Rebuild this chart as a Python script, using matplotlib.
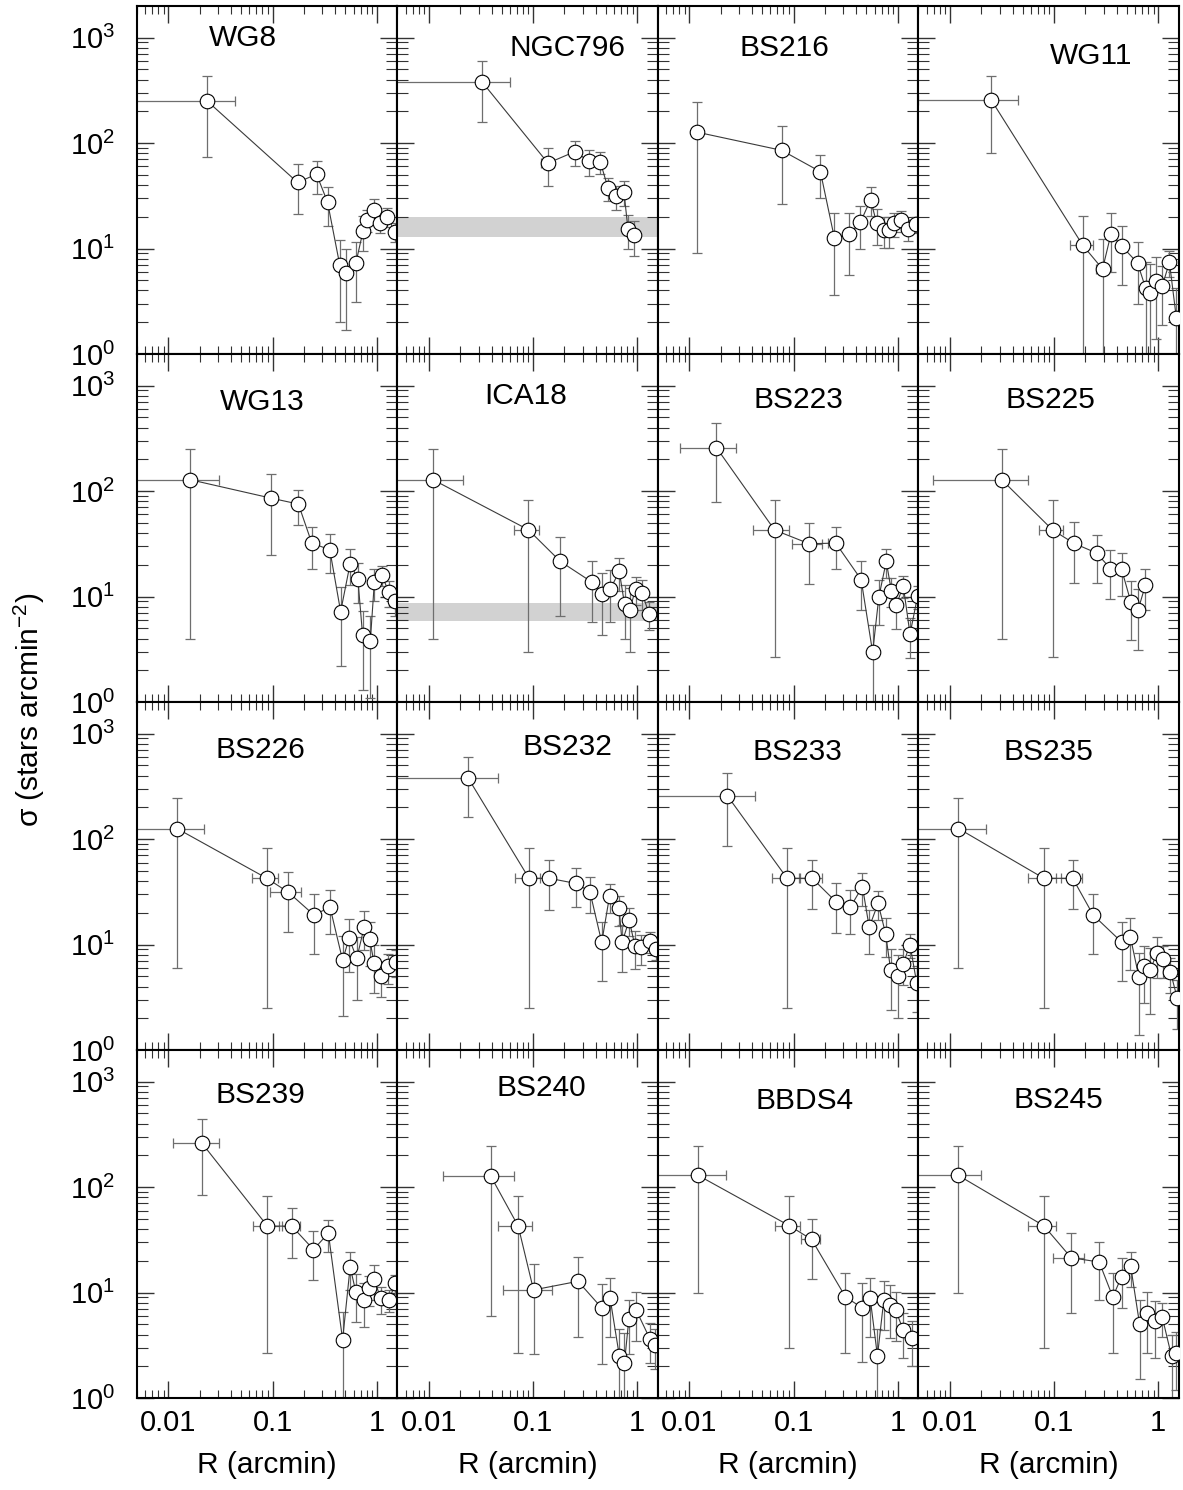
import numpy as np
import matplotlib
matplotlib.use("Agg")
import matplotlib.pyplot as plt
from matplotlib.ticker import LogLocator, FuncFormatter, NullFormatter

plt.rcParams.update({
    'font.family': ['Liberation Sans', 'DejaVu Sans'],
    'font.size': 21,
    'mathtext.fontset': 'custom',
    'mathtext.rm': 'Liberation Sans',
    'mathtext.it': 'Liberation Sans:italic',
    'mathtext.bf': 'Liberation Sans:bold',
    'axes.linewidth': 1.5,
})

# ── radial density profiles: R (arcmin), dR, sigma (stars arcmin^-2), dsigma ──
wg8_r = [0.0233, 0.174, 0.264, 0.337, 0.441, 0.51, 0.63, 0.74, 0.81, 0.94, 1.07, 1.26, 1.49]
wg8_rerr = [0.020, 0, 0, 0, 0, 0, 0, 0, 0, 0, 0, 0, 0]
wg8_sig = [253, 42.3, 50.7, 27.5, 7.0, 5.8, 7.3, 14.8, 18.7, 23.3, 17.4, 20.1, 14.5]
wg8_err = [180, 21, 17.6, 11, 5.0, 4.1, 4.2, 5.4, 4.5, 6, 3.5, 4, 3]

ngc796_r = [0.0324, 0.139, 0.253, 0.342, 0.441, 0.524, 0.625, 0.745, 0.814, 0.936]
ngc796_rerr = [0.028, 0.02, 0, 0, 0, 0, 0, 0, 0, 0]
ngc796_sig = [380, 64.5, 83.1, 67.3, 66.6, 37.4, 31.2, 34.3, 15.3, 13.4]
ngc796_err = [220, 25, 22.6, 19, 16, 9, 8, 9, 5.4, 4.9]

bs216_r = [0.0118, 0.0769, 0.181, 0.246, 0.344, 0.438, 0.548, 0.628, 0.73, 0.82, 0.91, 1.08, 1.25, 1.49]
bs216_rerr = [0] * 14
bs216_sig = [127, 85.3, 53.5, 12.7, 13.7, 17.7, 29.1, 17.3, 15.1, 15.1, 17.3, 18.5, 15.3, 16.9]
bs216_err = [118, 59, 23.4, 9.1, 8.1, 7.8, 8.9, 6.4, 5, 5, 4.5, 4, 3.5, 3]

wg11_r = [0.0249, 0.189, 0.292, 0.352, 0.448, 0.632, 0.757, 0.828, 0.948, 1.09, 1.28, 1.49]
wg11_rerr = [0.020, 0.048, 0.04, 0, 0, 0, 0, 0, 0, 0, 0, 0]
wg11_sig = [257, 10.7, 6.4, 13.8, 10.5, 7.3, 4.2, 3.8, 4.9, 4.4, 7.4, 2.2]
wg11_err = [176, 9.8, 5.9, 7.8, 6, 4.3, 3.2, 3.3, 3.5, 2.5, 2, 2]

wg13_r = [0.0163, 0.0964, 0.177, 0.238, 0.354, 0.45, 0.555, 0.658, 0.731, 0.867, 0.948, 1.12, 1.3, 1.51]
wg13_rerr = [0.0146, 0, 0, 0, 0, 0, 0, 0, 0, 0, 0, 0, 0, 0]
wg13_sig = [128, 85.8, 75.3, 32.1, 27.8, 7.2, 20.5, 14.7, 4.3, 3.8, 13.7, 16.1, 11.0, 9.1]
wg13_err = [124, 61, 28, 14, 11, 5, 7.5, 6, 3, 2.7, 4.6, 3.5, 3, 2.5]

ica18_r = [0.011, 0.0901, 0.183, 0.367, 0.462, 0.549, 0.672, 0.754, 0.849, 0.964, 1.11, 1.3]
ica18_rerr = [0.0103, 0.025, 0, 0, 0, 0, 0, 0, 0, 0, 0, 0]
ica18_sig = [128, 43, 21.5, 13.7, 10.6, 11.7, 17.3, 8.5, 7.5, 11.9, 10.9, 6.8]
ica18_err = [124, 40, 15, 8, 6.3, 6, 6, 4.5, 4.5, 3.5, 3.5, 2]

bs223_r = [0.0182, 0.0658, 0.141, 0.254, 0.445, 0.574, 0.658, 0.775, 0.867, 0.97, 1.13, 1.31, 1.55]
bs223_rerr = [0.010, 0.025, 0.045, 0.04, 0, 0, 0, 0, 0, 0, 0, 0, 0]
bs223_sig = [258, 42.7, 31.7, 32.1, 14.5, 2.96, 9.9, 21.5, 11.4, 8.4, 12.6, 4.4, 10.1]
bs223_err = [180, 40, 18.5, 14, 7, 2.4, 4.5, 6.5, 3.5, 3.5, 3, 1.8, 2.5]

bs225_r = [0.0315, 0.097, 0.156, 0.257, 0.347, 0.445, 0.545, 0.638, 0.752]
bs225_rerr = [0.0246, 0.025, 0, 0, 0, 0, 0, 0, 0]
bs225_sig = [128, 42.7, 31.9, 25.8, 18.4, 18.1, 8.9, 7.4, 12.8]
bs225_err = [124, 40, 18.5, 12.5, 9, 8, 5, 4.3, 5.3]

bs226_r = [0.0121, 0.0881, 0.142, 0.249, 0.356, 0.47, 0.542, 0.643, 0.758, 0.855, 0.942, 1.09, 1.29, 1.53]
bs226_rerr = [0.01, 0.025, 0.047, 0, 0, 0, 0, 0, 0, 0, 0, 0, 0, 0]
bs226_sig = [126, 42.5, 31.3, 19.1, 22.6, 7.1, 11.5, 7.4, 14.8, 11.2, 6.7, 5.0, 6.2, 6.9]
bs226_err = [120, 40, 18, 11, 10, 5, 6, 4.4, 6, 5, 3.2, 1.8, 2, 2]

bs232_r = [0.0238, 0.0914, 0.143, 0.257, 0.351, 0.456, 0.542, 0.668, 0.715, 0.836, 0.949, 1.08, 1.32, 1.51]
bs232_rerr = [0.022, 0.025, 0.015, 0, 0, 0, 0, 0, 0, 0, 0, 0, 0, 0]
bs232_sig = [380, 42.5, 42.5, 38, 31.8, 10.5, 28.9, 22.1, 10.5, 17.1, 9.7, 9.4, 10.8, 9.1]
bs232_err = [217, 40, 21, 15.5, 12, 6, 9, 7, 5, 5, 3.8, 3, 2.5, 2]

bs233_r = [0.0232, 0.0867, 0.151, 0.255, 0.35, 0.458, 0.532, 0.647, 0.764, 0.855, 1.0, 1.13, 1.31, 1.52]
bs233_rerr = [0.0194, 0.025, 0.035, 0, 0, 0, 0, 0, 0, 0, 0, 0, 0, 0]
bs233_sig = [257, 42.5, 42.5, 25.5, 22.6, 35.4, 14.6, 24.6, 12.7, 5.7, 5.0, 6.6, 10.0, 4.3]
bs233_err = [171, 40, 20.7, 12.5, 10, 12, 6.5, 7.5, 5, 3.3, 3, 2.5, 2.5, 2]

bs235_r = [0.0121, 0.0798, 0.151, 0.237, 0.448, 0.541, 0.652, 0.73, 0.836, 0.97, 1.11, 1.31, 1.52]
bs235_rerr = [0.0102, 0.024, 0.035, 0, 0, 0, 0, 0, 0, 0, 0, 0, 0]
bs235_sig = [126, 42.5, 42.5, 19.1, 10.5, 11.7, 4.9, 6.3, 5.7, 8.3, 7.3, 5.5, 3.1]
bs235_err = [120, 40, 20.7, 11, 6, 6, 3.5, 3.5, 3.5, 3.5, 2.5, 2, 1.5]

bs239_r = [0.021, 0.0893, 0.153, 0.247, 0.343, 0.47, 0.555, 0.63, 0.754, 0.842, 0.942, 1.09, 1.31, 1.51]
bs239_rerr = [0.0099, 0.025, 0.03, 0, 0, 0, 0, 0, 0, 0, 0, 0, 0, 0]
bs239_sig = [261, 42.7, 42.7, 25.6, 36.6, 3.57, 17.5, 10.1, 8.5, 11.0, 13.5, 8.8, 8.5, 12.3]
bs239_err = [177, 40, 21.4, 12.5, 12.5, 3, 7, 4.8, 3.8, 3.5, 4.9, 2.5, 2, 2.5]

bs240_r = [0.0393, 0.072, 0.101, 0.27, 0.459, 0.549, 0.673, 0.753, 0.83, 0.978, 1.32, 1.49]
bs240_rerr = [0.0256, 0.026, 0.05, 0, 0, 0, 0, 0, 0, 0, 0, 0]
bs240_sig = [127, 42.7, 10.6, 12.8, 7.1, 8.8, 2.5, 2.15, 5.6, 6.8, 3.65, 3.2]
bs240_err = [121, 40, 8, 9, 5, 5, 2, 2, 3, 3.3, 1.5, 1.3]

bbds4_r = [0.0122, 0.0914, 0.149, 0.315, 0.452, 0.544, 0.638, 0.735, 0.835, 0.955, 1.13, 1.37]
bbds4_rerr = [0.0101, 0.025, 0.032, 0, 0, 0, 0, 0, 0, 0, 0, 0]
bbds4_sig = [129, 43, 31.9, 9.1, 7.2, 8.8, 2.5, 8.6, 7.7, 6.8, 4.4, 3.7]
bbds4_err = [119, 40, 18.5, 6.4, 5, 5, 2, 4.2, 4, 3.3, 2, 1.7]

bs245_r = [0.0121, 0.0798, 0.146, 0.271, 0.366, 0.445, 0.544, 0.662, 0.775, 0.927, 1.09, 1.34, 1.49]
bs245_rerr = [0.0079, 0.024, 0.048, 0, 0, 0, 0, 0, 0, 0, 0, 0, 0]
bs245_sig = [129, 43, 21.4, 19.5, 9.1, 14.2, 17.7, 5.0, 6.4, 5.4, 5.9, 2.5, 2.7]
bs245_err = [119, 40, 15, 11, 6.4, 7, 6.4, 3.5, 3.7, 3, 2.1, 1.5, 1.5]

cluster_names = ["WG8", "NGC796", "BS216", "WG11",
                 "WG13", "ICA18", "BS223", "BS225",
                 "BS226", "BS232", "BS233", "BS235",
                 "BS239", "BS240", "BBDS4", "BS245"]

profiles = [
    (wg8_r, wg8_rerr, wg8_sig, wg8_err), (ngc796_r, ngc796_rerr, ngc796_sig, ngc796_err),
    (bs216_r, bs216_rerr, bs216_sig, bs216_err), (wg11_r, wg11_rerr, wg11_sig, wg11_err),
    (wg13_r, wg13_rerr, wg13_sig, wg13_err), (ica18_r, ica18_rerr, ica18_sig, ica18_err),
    (bs223_r, bs223_rerr, bs223_sig, bs223_err), (bs225_r, bs225_rerr, bs225_sig, bs225_err),
    (bs226_r, bs226_rerr, bs226_sig, bs226_err), (bs232_r, bs232_rerr, bs232_sig, bs232_err),
    (bs233_r, bs233_rerr, bs233_sig, bs233_err), (bs235_r, bs235_rerr, bs235_sig, bs235_err),
    (bs239_r, bs239_rerr, bs239_sig, bs239_err), (bs240_r, bs240_rerr, bs240_sig, bs240_err),
    (bbds4_r, bbds4_rerr, bbds4_sig, bbds4_err), (bs245_r, bs245_rerr, bs245_sig, bs245_err),
]

# field density level (lower, upper) for the two clusters that have one
background = {"NGC796": (12.8, 20.1), "ICA18": (5.9, 8.7)}

# where each cluster name sits (axes fraction)
name_xy = [(0.407, 0.908), (0.651, 0.879), (0.484, 0.879), (0.662, 0.856),
           (0.480, 0.862), (0.493, 0.879), (0.541, 0.868), (0.505, 0.868),
           (0.472, 0.862), (0.654, 0.871), (0.534, 0.856), (0.497, 0.856),
           (0.472, 0.871), (0.551, 0.891), (0.564, 0.853), (0.536, 0.856)]

fig, axes = plt.subplots(4, 4, sharex=True, sharey=True, figsize=(11.83, 14.90), dpi=100)
fig.subplots_adjust(left=0.1158, right=0.9966, top=0.996, bottom=0.0617, wspace=0, hspace=0)

for i, ax in enumerate(axes.flat):
    name = cluster_names[i]
    r, rerr, sig, err = [np.asarray(a, dtype=float) for a in profiles[i]]
    lo = np.minimum(err, sig * 0.999)

    if name in background:
        b0, b1 = background[name]
        ax.axhspan(b0, b1, color='#d2d2d2', lw=0, zorder=1)

    ax.errorbar(r, sig, xerr=rerr, yerr=[lo, err], fmt='none', ecolor='#6e6e6e',
                elinewidth=0.9, capsize=3.8, capthick=0.9, zorder=2)
    ax.plot(r, sig, '-', color='#3a3a3a', lw=0.8, zorder=3)
    ax.plot(r, sig, 'o', mfc='white', mec='black', mew=0.8, ms=10.5, zorder=4)

    ax.set_xscale('log')
    ax.set_yscale('log')
    ax.set_xlim(0.005, 1.58)
    ax.set_ylim(1, 1995)

    ax.xaxis.set_major_locator(LogLocator(base=10, numticks=10))
    ax.xaxis.set_minor_locator(LogLocator(base=10, subs=np.arange(2, 10), numticks=20))
    ax.xaxis.set_major_formatter(FuncFormatter(lambda v, p: '%g' % v))
    ax.xaxis.set_minor_formatter(NullFormatter())
    ax.yaxis.set_major_locator(LogLocator(base=10, numticks=10))
    ax.yaxis.set_minor_locator(LogLocator(base=10, subs=np.arange(2, 10), numticks=20))
    ax.yaxis.set_minor_formatter(NullFormatter())

    ax.tick_params(which='both', direction='in', top=True, right=True, color='#333333')
    ax.tick_params(axis='x', which='major', length=12, width=1.0, pad=8, labelsize=21)
    ax.tick_params(axis='x', which='minor', length=6, width=0.8)
    ax.tick_params(axis='y', which='major', length=12, width=1.0, pad=16, labelsize=21)
    ax.tick_params(axis='y', which='minor', length=8, width=0.8)

    tx, ty = name_xy[i]
    ax.text(tx, ty, name, transform=ax.transAxes, ha='center', va='center', fontsize=21.5)

    if i >= 12:
        ax.set_xlabel("R (arcmin)", fontsize=21.5, labelpad=10)

fig.text(0.025, 1 - 710 / 1490, r"σ (stars arcmin$^{-2}$)", rotation=90,
         ha='center', va='center', fontsize=21.5)

fig.savefig("out.png", dpi=100)
